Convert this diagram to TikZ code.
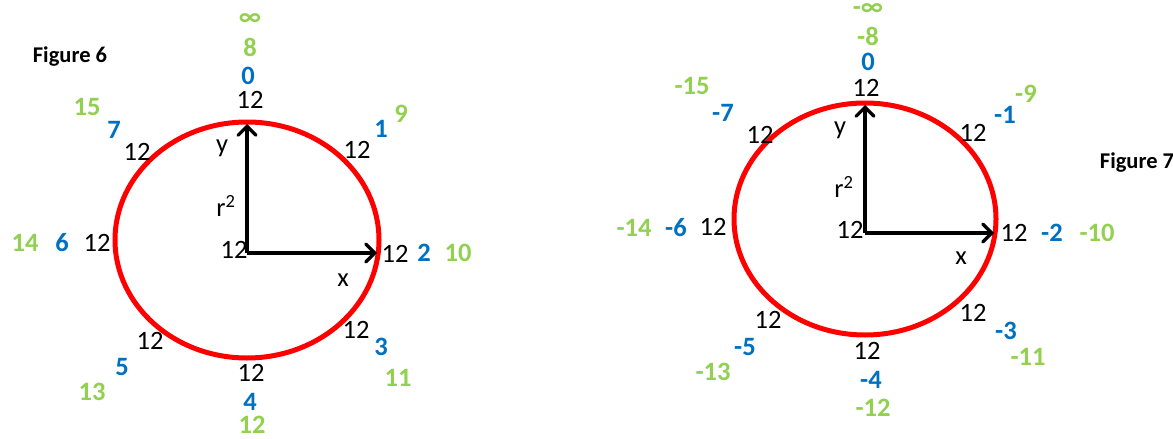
\documentclass[tikz,border=0pt]{standalone}
\usepackage{fontspec}
\setmainfont{Carlito}
\usetikzlibrary{arrows.meta}
\definecolor{cblue}{RGB}{0,112,192}
\definecolor{cgreen}{RGB}{146,208,80}
\tikzset{
  lbl/.style={inner sep=0pt, font=\fontsize{26.5}{30}\selectfont},
  bl/.style={inner sep=0pt, text=cblue, font=\fontsize{26.5}{30}\selectfont\bfseries},
  gr/.style={inner sep=0pt, text=cgreen, font=\fontsize{26.5}{30}\selectfont\bfseries},
  fig/.style={inner sep=0pt, font=\fontsize{22.5}{26}\selectfont\bfseries},
  ring/.style={draw=red, line width=5pt},
  axis/.style={line width=3.2pt, -{Straight Barb[length=9pt,width=18pt,line cap=round]}}
}
\begin{document}
\begin{tikzpicture}[x=1pt,y=-1pt]
\useasboundingbox (0,0) rectangle (1173,439);
% ---------------- Figure 6 ----------------
\node[fig] (f6) at (70,57) {Figure 6};
\draw[ring] (247,240) ellipse [x radius=132, y radius=118];
\coordinate (o6) at (247,253);
\coordinate (t6) at (247,124);
\coordinate (r6) at (377,253);
\draw[axis] (o6) -- (t6);
\draw[axis] (o6) -- (r6);
\node[lbl] (y6) at (222,148) {y};
\node[lbl] (rr6) at (226,206) {r\textsuperscript{2}};
\node[lbl] (x6) at (343,280) {x};
\node[lbl] (c6) at (234,250) {12};
% top
\node[gr] (g6a) at (250,20) {∞};
\node[gr] (g6b) at (250,47) {8};
\node[bl] (b6a) at (248,76) {0};
\node[lbl] (k6a) at (250,100) {12};
% upper right
\node[lbl] (k6b) at (357,150) {12};
\node[bl] (b6b) at (381,129) {1};
\node[gr] (g6c) at (401,114) {9};
% right
\node[lbl] (k6c) at (395,254) {12};
\node[bl] (b6c) at (424,253) {2};
\node[gr] (g6d) at (458,253) {10};
% lower right
\node[lbl] (k6d) at (356,330) {12};
\node[bl] (b6d) at (381,347) {3};
\node[gr] (g6e) at (398,378) {11};
% bottom
\node[lbl] (k6e) at (251,373) {12};
\node[bl] (b6e) at (250,402) {4};
\node[gr] (g6f) at (252,425) {12};
% lower left
\node[lbl] (k6f) at (150,341) {12};
\node[bl] (b6f) at (122,367) {5};
\node[gr] (g6g) at (92,392) {13};
% left
\node[lbl] (k6g) at (97,243) {12};
\node[bl] (b6g) at (62,243) {6};
\node[gr] (g6h) at (25,243) {14};
% upper left
\node[lbl] (k6h) at (137,152) {12};
\node[bl] (b6h) at (114,130) {7};
\node[gr] (g6i) at (87,107) {15};
% ---------------- Figure 7 ----------------
\node[fig] (f7) at (1137,163) {Figure 7};
\draw[ring] (865,219) ellipse [x radius=131, y radius=116];
\coordinate (o7) at (865,233);
\coordinate (t7) at (865,105);
\coordinate (r7) at (994,233);
\draw[axis] (o7) -- (t7);
\draw[axis] (o7) -- (r7);
\node[lbl] (y7) at (840,130) {y};
\node[lbl] (rr7) at (844,187) {r\textsuperscript{2}};
\node[lbl] (x7) at (961,258) {x};
\node[lbl] (c7) at (850,230) {12};
% top
\node[gr] (g7a) at (868,10) {-∞};
\node[gr] (g7b) at (868,36) {-8};
\node[bl] (b7a) at (868,62) {0};
\node[lbl] (k7a) at (866,88) {12};
% upper right
\node[lbl] (k7b) at (973,133) {12};
\node[bl] (b7b) at (1005,115) {-1};
\node[gr] (g7c) at (1026,94) {-9};
% right
\node[lbl] (k7c) at (1014,233) {12};
\node[bl] (b7c) at (1052,233) {-2};
\node[gr] (g7d) at (1097,233) {-10};
% lower right
\node[lbl] (k7d) at (973,313) {12};
\node[bl] (b7d) at (1006,331) {-3};
\node[gr] (g7e) at (1028,357) {-11};
% bottom
\node[lbl] (k7e) at (867,351) {12};
\node[bl] (b7e) at (871,380) {-4};
\node[gr] (g7f) at (873,408) {-12};
% lower left
\node[lbl] (k7f) at (768,320) {12};
\node[bl] (b7f) at (745,347) {-5};
\node[gr] (g7g) at (713,372) {-13};
% left
\node[lbl] (k7g) at (713,227) {12};
\node[bl] (b7g) at (676,228) {-6};
\node[gr] (g7h) at (634,228) {-14};
% upper left
\node[lbl] (k7h) at (760,135) {12};
\node[bl] (b7h) at (723,113) {-7};
\node[gr] (g7i) at (692,86) {-15};
\end{tikzpicture}
\end{document}
